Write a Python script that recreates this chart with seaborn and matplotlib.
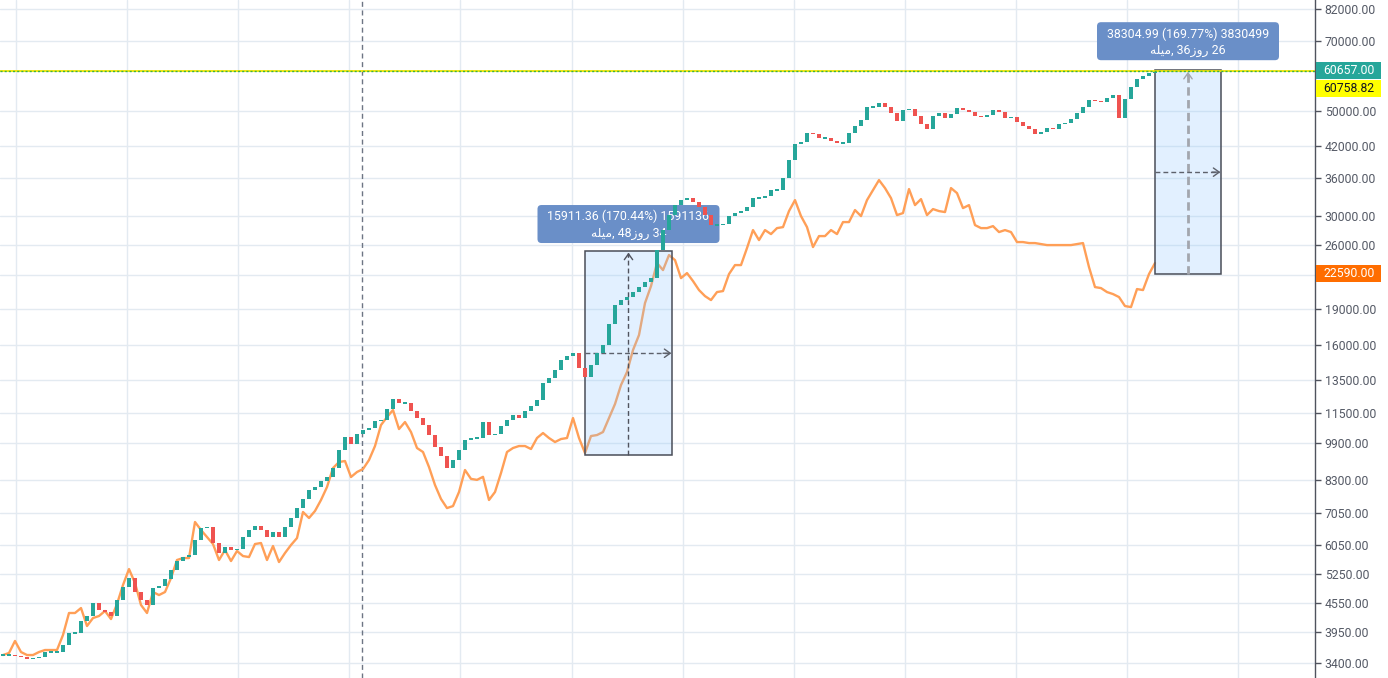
import numpy as np
import pandas as pd
import matplotlib
matplotlib.use("Agg")
import matplotlib.pyplot as plt
import seaborn as sns
from matplotlib.patches import Rectangle, FancyBboxPatch
from matplotlib.transforms import IdentityTransform
from matplotlib.ticker import FixedLocator, FuncFormatter, NullLocator

# ---------------- data ----------------
closes = [
    3535, 3535, 3518, 3501, 3467, 3484, 3501, 3587, 3587, 3587,
    3711, 3935, 3935, 4171, 4274, 4553, 4401, 4358, 4274, 4620,
    4921, 5142, 4803, 4620, 4509, 4896, 4945, 5117, 5346, 5585,
    5694, 5751, 6186, 6556, 6588, 6097, 5807, 5978, 5893, 5921,
    6277, 6495, 6622, 6495, 6277, 6432, 6277, 6588, 6886, 7227,
    7554, 7890, 8006, 8244, 8413, 8781, 9586, 10209, 9870, 10362,
    10566, 10670, 11038, 11092, 11702, 12285, 12048, 12048, 11588, 11200,
    10825, 10311, 9727, 9294, 8781, 9130, 9586, 10064, 10163, 10163,
    10985, 10311, 10362, 10772, 11092, 11365, 11200, 11588, 11874, 12225,
    13280, 13605, 14146, 14852, 15142, 15367, 14286, 13672, 14495, 15367,
    15976, 17695, 19409, 19887, 20179, 20677, 21183, 21708, 22128, 25366,
    27956, 30072, 31570, 32343, 32660, 32037, 31260, 30072, 28643, 28643,
    28783, 29926, 30367, 30665, 31260, 32660, 32660, 32981, 33963, 33963,
    36000, 39300, 42480, 42900, 44817, 44599, 43721, 43721, 43100, 42689,
    42689, 44817, 46367, 47745, 50859, 50859, 51860, 50859, 49397, 47513,
    50123, 50370, 48677, 46822, 45700, 48677, 49397, 48200, 49156, 50620,
    50123, 49640, 48677, 48440, 48915, 50123, 49640, 48200, 48440, 47280,
    46367, 45700, 44599, 45036, 45925, 45700, 46822, 47051, 48000, 49397,
    50859, 52622, 52367, 52111, 53136, 53918, 48200, 52878, 56056, 58280,
    59140, 60010, 60657,
]

compare = [
    3535, 3570, 3785, 3587, 3535, 3535, 3587, 3622, 3622, 3622,
    3897, 4337, 4337, 4443, 4071, 4232, 4274, 4380, 4211, 4531,
    4970, 5371, 5018, 4509, 4337, 4803, 4733, 4803, 5141, 5613,
    5666, 5666, 6753, 6495, 6277, 6067, 5613, 5893, 5585, 5864,
    5722, 5694, 6067, 6097, 5613, 6008, 5558, 5807, 6038, 6246,
    7090, 6886, 7125, 7517, 8006, 8781, 9042, 9086, 8406, 8613,
    8740, 9130, 9774, 10825, 11253, 11646, 10616, 10985, 10463, 9680,
    9494, 8825, 8085, 7554, 7227, 7298, 7814, 8697, 8330, 8290,
    8413, 7517, 7814, 8571, 9494, 9680, 9774, 9774, 9633, 10163,
    10412, 10163, 9967, 10113, 10163, 11200, 10163, 9447, 10261, 10311,
    10463, 11200, 11990, 13151, 14010, 15592, 16773, 19599, 21287, 23809,
    23012, 24753, 24156, 22128, 22679, 21814, 20879, 20274, 19887, 20677,
    20778, 22569, 23577, 23577, 25613, 27956, 26628, 27956, 27417, 28225,
    28363, 30665, 32343, 29926, 28363, 25739, 27151, 27151, 27956, 27417,
    29067, 29067, 30816, 29926, 32343, 33963, 35657, 34296, 32660, 30072,
    30367, 34130, 31570, 32502, 30072, 30964, 30665, 30516, 34296, 33470,
    31110, 31570, 28643, 28225, 28225, 28500, 27687, 27956, 27687, 26372,
    26372, 26243, 26243, 26115, 25988, 25988, 25988, 25988, 25988, 26115,
    26243, 23346, 21183, 21080, 20677, 20476, 20179, 19315, 19221, 20980,
    20879, 22569, 23809,
]

price_ticks = [3400, 3950, 4550, 5250, 6050, 7050, 8300, 9900, 11500, 13500,
               16000, 19000, 22500, 26000, 30000, 36000, 42000, 50000,
               70000, 82000]

measure_start = [97, 192]
measure_end = [111.5, 203]
measure_low = [9335.5, 22563]
measure_high = [25247, 60868]
measure_line1 = ["15911.36 (170.44%) 1591136", "38304.99 (169.77%) 3830499"]
measure_line2 = ["\uFEEA\uFEE0\uFEF4\uFEE3, 48\u0632\u0648\u0631 34",
                 "\uFEEA\uFEE0\uFEF4\uFEE3, 36\u0632\u0648\u0631 26"]

session_marker = 59.83
last_price = 60657.00
alt_price = 60758.82
compare_last = 22590.00

# ---------------- style ----------------
sns.set_theme(style="white")
plt.rcParams['font.family'] = ['Roboto', 'DejaVu Sans']

TEAL = '#26a69a'
RED = '#ef5350'
ORANGE = '#ff9f57'
AXC = '#50535e'

W, H = 1388, 678
fig = plt.figure(figsize=(W / 100, H / 100), dpi=100)
fig.patch.set_facecolor('white')
ax = fig.add_axes([0, 0, 1315 / W, 1])
ax.set_facecolor('white')
ax.set_yscale('log')
ax.set_xlim(-0.5, 218.667)
ax.set_ylim(3161, 85650)

ax.yaxis.set_major_locator(FixedLocator(price_ticks))
ax.yaxis.set_minor_locator(NullLocator())
ax.yaxis.set_major_formatter(FuncFormatter(lambda v, p: f"{v:.2f}"))
ax.set_xticks(np.arange(12) * 18.517 + 2.167)
ax.tick_params(axis='x', bottom=False, labelbottom=False)
ax.tick_params(axis='y', which='major', left=False, right=True,
               labelleft=False, labelright=True, length=4, width=1,
               color=AXC, labelcolor='#555a66', labelsize=8.8, pad=3,
               direction='out')
ax.grid(True, color='#e3eaf1', lw=1)
ax.set_axisbelow(True)
for s in ['left', 'top', 'bottom']:
    ax.spines[s].set_visible(False)
ax.spines['right'].set_color(AXC)
ax.spines['right'].set_linewidth(1)

# session marker
ax.axvline(session_marker, color='#6d7584', lw=1, ls=(0, (3.6, 2.6)), zorder=1.5)

# comparison line
df = pd.DataFrame({'bar': np.arange(len(compare)), 'value': compare})
sns.lineplot(data=df, x='bar', y='value', ax=ax, color=ORANGE, linewidth=1.7,
             estimator=None, zorder=2)
ax.set_xlabel('')
ax.set_ylabel('')

# candles
c = np.array(closes, dtype=float)
o = np.r_[c[0], c[:-1]]
lo = np.minimum(o, c)
hi = np.maximum(o, c)
flat = hi / lo < 1.008
mid = np.sqrt(lo * hi)
lo = np.where(flat, mid / 1.004, lo)
hi = np.where(flat, mid * 1.004, hi)
cols = np.where(c >= o, TEAL, RED)
ax.bar(np.arange(len(c)), hi - lo, bottom=lo, width=0.8, color=cols,
       linewidth=0, zorder=5)

# measurement boxes
vline_w = [1.0, 2.0]
vline_c = ['#50535e', '#a3a6ae']
for k in range(len(measure_start)):
    s, e = measure_start[k], measure_end[k]
    mlo, mhi = measure_low[k], measure_high[k]
    xm = (s + e) / 2
    ym = np.sqrt(mlo * mhi)
    ax.add_patch(Rectangle((s, mlo), e - s, mhi - mlo,
                           facecolor=(0.55, 0.78, 1.0, 0.25),
                           edgecolor='#4a4e59', lw=1.1, zorder=3))
    ax.plot([xm, xm], [mlo, mhi / 1.01], color=vline_c[k], lw=vline_w[k],
            ls=(0, (3.5, 2.2)) if k == 0 else (0, (3.0, 1.6)), zorder=3.5)
    ax.plot([s, e - 0.3], [ym, ym], color='#5d616b', lw=1,
            ls=(0, (3.5, 2.2)), zorder=3.5)
    ax.annotate('', xy=(xm, mhi / 1.008), xytext=(xm, mhi / 1.03),
                arrowprops=dict(arrowstyle='->,head_length=0.35,head_width=0.25',
                                color=vline_c[k], lw=1, shrinkA=0, shrinkB=0),
                zorder=3.6)
    ax.annotate('', xy=(e - 0.1, ym), xytext=(e - 1.5, ym),
                arrowprops=dict(arrowstyle='->,head_length=0.35,head_width=0.25',
                                color='#5d616b', lw=1, shrinkA=0, shrinkB=0),
                zorder=3.6)

    px, py = ax.transData.transform((xm, mhi))
    bw, bh = 182, 38
    gap = 8 if k == 0 else 10
    x0, y0 = px - bw / 2, py + gap
    ax.add_patch(FancyBboxPatch((x0, y0), bw, bh,
                                boxstyle='round,pad=0,rounding_size=4',
                                transform=IdentityTransform(),
                                facecolor='#6a8fc8', edgecolor='none',
                                zorder=4, clip_on=False))
    ax.text(px, y0 + bh * 0.69, measure_line1[k], transform=IdentityTransform(),
            ha='center', va='center', color='white', fontsize=8.9,
            zorder=4.2, clip_on=False)
    ax.text(px, y0 + bh * 0.25, measure_line2[k], transform=IdentityTransform(),
            ha='center', va='center', color='white', fontsize=8.9,
            zorder=4.2, clip_on=False)

# last price line
ax.axhline(last_price, color='#f2e600', lw=1.3, zorder=6)
ax.axhline(last_price, color='#3cb043', lw=1.0, ls=(0, (1.5, 1.5)), zorder=6.1)


def price_tag(value, face, textcolor, dy=0.0, label=None):
    py = ax.transData.transform((0, value))[1] + dy
    ax.add_patch(Rectangle((1316, py - 8.5), 65, 17, transform=IdentityTransform(),
                           facecolor=face, edgecolor='none', zorder=8,
                           clip_on=False))
    ax.text(1323, py, f"{(label if label is not None else value):.2f}",
            transform=IdentityTransform(), ha='left', va='center',
            color=textcolor, fontsize=8.8, zorder=9, clip_on=False)


price_tag(last_price, TEAL, 'white')
price_tag(last_price, '#ffff00', '#131722', dy=-17.5, label=alt_price)
price_tag(compare_last, '#ff6d00', 'white')

fig.savefig('out.png', dpi=100, facecolor='white')
